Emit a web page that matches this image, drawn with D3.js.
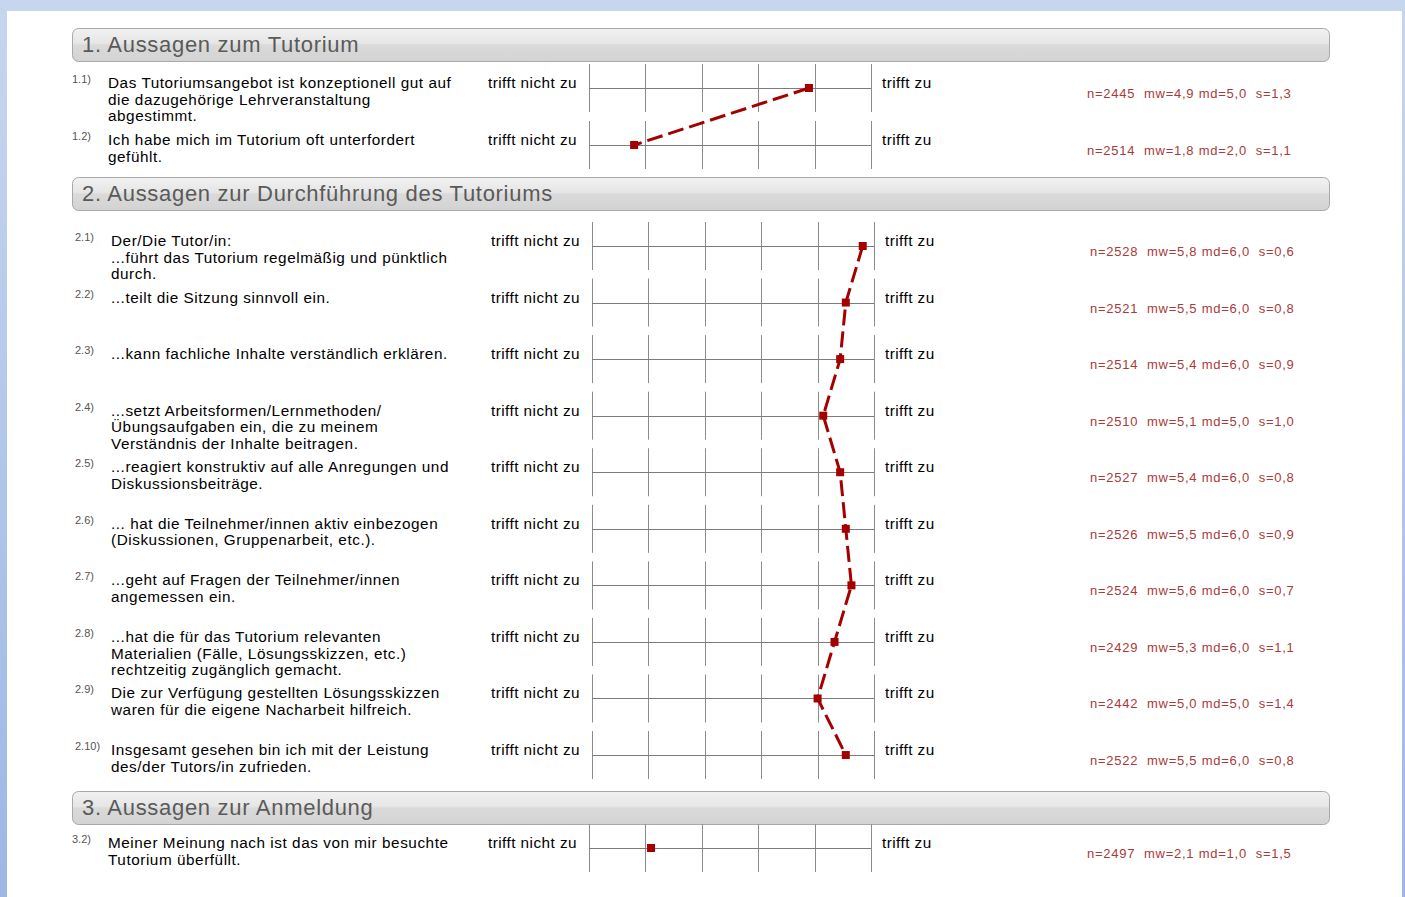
<!DOCTYPE html>
<html>
<head>
<meta charset="utf-8">
<script src="https://cdn.jsdelivr.net/npm/d3@7"></script>
<style>
  html, body { margin: 0; padding: 0; }
  body { width: 1405px; height: 897px; overflow: hidden; background: linear-gradient(#c7d6ef, #9cb8e3); }
  svg text { font-family: "Liberation Sans", Arial, sans-serif; }
</style>
</head>
<body>
<svg id="chart" width="1405" height="897"></svg>
<script>
// section titles
var sectionTitles = ["1. Aussagen zum Tutorium", "2. Aussagen zur Durchführung des Tutoriums", "3. Aussagen zur Anmeldung"];

// items
var itemSection = [0, 0, 1, 1, 1, 1, 1, 1, 1, 1, 1, 1, 2];
var itemIds = ["1.1)", "1.2)", "2.1)", "2.2)", "2.3)", "2.4)", "2.5)", "2.6)", "2.7)", "2.8)", "2.9)", "2.10)", "3.2)"];
var itemTexts = [
  ["Das Tutoriumsangebot ist konzeptionell gut auf", "die dazugehörige Lehrveranstaltung", "abgestimmt."],
  ["Ich habe mich im Tutorium oft unterfordert", "gefühlt."],
  ["Der/Die Tutor/in:", "...führt das Tutorium regelmäßig und pünktlich", "durch."],
  ["...teilt die Sitzung sinnvoll ein."],
  ["...kann fachliche Inhalte verständlich erklären."],
  ["...setzt Arbeitsformen/Lernmethoden/", "Übungsaufgaben ein, die zu meinem", "Verständnis der Inhalte beitragen."],
  ["...reagiert konstruktiv auf alle Anregungen und", "Diskussionsbeiträge."],
  ["... hat die Teilnehmer/innen aktiv einbezogen", "(Diskussionen, Gruppenarbeit, etc.)."],
  ["...geht auf Fragen der Teilnehmer/innen", "angemessen ein."],
  ["...hat die für das Tutorium relevanten", "Materialien (Fälle, Lösungsskizzen, etc.)", "rechtzeitig zugänglich gemacht."],
  ["Die zur Verfügung gestellten Lösungsskizzen", "waren für die eigene Nacharbeit hilfreich."],
  ["Insgesamt gesehen bin ich mit der Leistung", "des/der Tutors/in zufrieden."],
  ["Meiner Meinung nach ist das von mir besuchte", "Tutorium überfüllt."]
];

// statistics
var nValues  = [2445, 2514, 2528, 2521, 2514, 2510, 2527, 2526, 2524, 2429, 2442, 2522, 2497];
var mwValues = [4.9, 1.8, 5.8, 5.5, 5.4, 5.1, 5.4, 5.5, 5.6, 5.3, 5.0, 5.5, 2.1];
var mdValues = [5.0, 2.0, 6.0, 6.0, 6.0, 5.0, 6.0, 6.0, 6.0, 6.0, 5.0, 6.0, 1.0];
var sValues  = [1.3, 1.1, 0.6, 0.8, 0.9, 1.0, 0.8, 0.9, 0.7, 1.1, 1.4, 0.8, 1.5];

// answer scale
var scaleTicks = [1, 2, 3, 4, 5, 6];
var leftPole = "trifft nicht zu";
var rightPole = "trifft zu";

// layout
var sectionTop = [28, 177, 791];
var firstRow = [60, 69, 57];
var rowStep = [57, 56.56, 57];
var sectionDx = [0, 3, 0];

var svg = d3.select("#chart");

svg.append("rect").attr("x", 7).attr("y", 11).attr("width", 1395).attr("height", 900).attr("fill", "#fff");

var defs = svg.append("defs");
var grad = defs.append("linearGradient").attr("id", "band").attr("x1", 0).attr("y1", 0).attr("x2", 0).attr("y2", 1);
grad.append("stop").attr("offset", "0%").attr("stop-color", "#f1f1f1");
grad.append("stop").attr("offset", "45%").attr("stop-color", "#e6e6e6");
grad.append("stop").attr("offset", "50%").attr("stop-color", "#dadada");
grad.append("stop").attr("offset", "100%").attr("stop-color", "#d3d3d3");

var fmt = function(v){ return d3.format(".1f")(v).replace(".", ","); };

// section headers
sectionTitles.forEach(function(t, s){
  var g = svg.append("g").attr("transform", "translate(0," + sectionTop[s] + ")");
  g.append("rect").attr("x", 72.5).attr("y", 0.5).attr("width", 1257).attr("height", 33)
    .attr("rx", 6).attr("fill", "url(#band)").attr("stroke", "#a9a9a9");
  g.append("text").attr("x", 82).attr("y", 24).text(t)
    .style("font-size", "22px").style("letter-spacing", "0.7px").style("fill", "#5a5a5a");
});

// rows per section
var rowIndex = itemSection.map(function(s, i){
  return itemSection.slice(0, i).filter(function(v){ return v === s; }).length;
});
function rowY(i){
  var s = itemSection[i];
  return sectionTop[s] + firstRow[s] + rowIndex[i] * rowStep[s];
}
function xScale(s){
  return d3.scaleLinear().domain([1, 6]).range([589 + sectionDx[s], 871 + sectionDx[s]]);
}

itemIds.forEach(function(id, i){
  var s = itemSection[i], dx = sectionDx[s], y = rowY(i), x = xScale(s);
  var g = svg.append("g");
  g.append("text").attr("x", 72 + dx).attr("y", y - 5).text(id)
    .style("font-size", "11px").style("fill", "#555");
  var t = g.append("text").attr("x", 108 + dx).attr("y", y)
    .style("font-size", "15.3px").style("letter-spacing", "0.55px").style("fill", "#000");
  itemTexts[i].forEach(function(line, k){
    t.append("tspan").attr("x", 108 + dx).attr("dy", k ? 16.6 : 0).text(line);
  });
  g.append("text").attr("x", 488 + dx).attr("y", y).text(leftPole)
    .style("font-size", "15.3px").style("letter-spacing", "0.45px").style("fill", "#000");
  g.append("text").attr("x", 882 + dx).attr("y", y).text(rightPole)
    .style("font-size", "15.3px").style("letter-spacing", "0.45px").style("fill", "#000");
  g.selectAll("line.v").data(scaleTicks).enter().append("line")
    .attr("x1", function(d){ return Math.round(x(d)) + 0.5; })
    .attr("x2", function(d){ return Math.round(x(d)) + 0.5; })
    .attr("y1", y - 24).attr("y2", y + 24)
    .attr("stroke", "#8c8c8c").attr("stroke-width", 1);
  g.append("line").attr("x1", x(1)).attr("x2", x(6))
    .attr("y1", Math.round(y) + 0.5).attr("y2", Math.round(y) + 0.5)
    .attr("stroke", "#7c7c7c").attr("stroke-width", 1);
  g.append("text").attr("x", 1087 + dx).attr("y", y + 10)
    .attr("xml:space", "preserve").style("white-space", "pre")
    .text("n=" + nValues[i] + "  mw=" + fmt(mwValues[i]) + " md=" + fmt(mdValues[i]) + "  s=" + fmt(sValues[i]))
    .style("font-size", "13px").style("letter-spacing", "0.75px").style("fill", "#a83a3a");
});

// mean profile lines + markers
sectionTitles.forEach(function(t, s){
  var idx = d3.range(itemIds.length).filter(function(i){ return itemSection[i] === s; });
  var x = xScale(s);
  var line = d3.line().x(function(i){ return x(mwValues[i]); }).y(function(i){ return rowY(i); });
  if (idx.length > 1) {
    svg.append("path").attr("d", line(idx)).attr("fill", "none")
      .attr("stroke", "#a50000").attr("stroke-width", 3).attr("stroke-dasharray", "16,6");
  }
  svg.selectAll(null).data(idx).enter().append("rect")
    .attr("x", function(i){ return x(mwValues[i]) - 4; })
    .attr("y", function(i){ return rowY(i) - 4; })
    .attr("width", 8).attr("height", 8).attr("fill", "#a50000");
});
</script>
</body>
</html>
